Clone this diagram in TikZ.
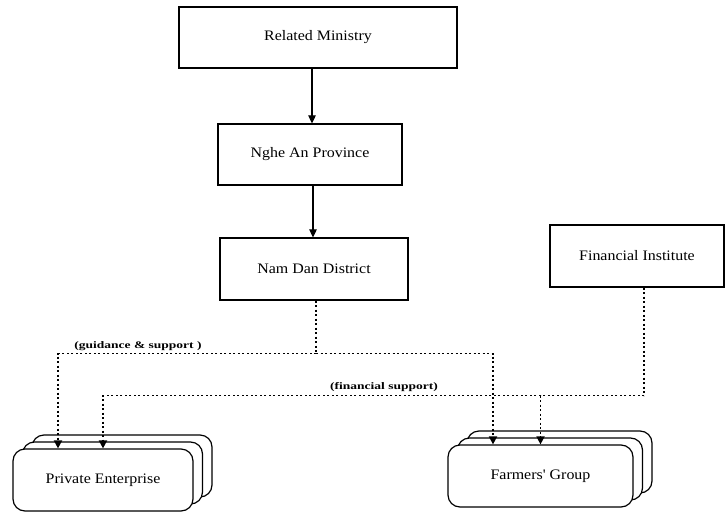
\documentclass[tikz,border=0pt]{standalone}
\usepackage{fontspec}
\setmainfont{Liberation Serif}[FakeStretch=1.1, Ligatures=TeXOff]
\newfontfamily\lblfont{Liberation Serif}[FakeStretch=1.35]
\usetikzlibrary{arrows.meta,shadows}

\tikzset{
  orgbox/.style={draw, line width=1.2pt, fill=white, inner sep=0pt,
    font=\fontsize{14.5}{17}\selectfont},
  groupbox/.style={orgbox, rounded corners=12pt,
    double copy shadow={shadow xshift=9.5pt, shadow yshift=7pt}},
  solidarrow/.style={line width=1.1pt, -{Triangle[length=8pt,width=7.5pt]}},
  dotline/.style={line width=1.7pt, dash pattern=on 2pt off 2.5pt},
  dotarrow/.style={dotline, -{Triangle[length=8pt,width=8pt]}},
  flowlabel/.style={font=\lblfont\bfseries\fontsize{10}{12}\selectfont, inner sep=0pt}
}

\begin{document}
\begin{tikzpicture}[x=1pt, y=-1pt]
  \useasboundingbox (0,0) rectangle (727,513);

  % government hierarchy
  \node[orgbox, minimum width=278pt, minimum height=61pt] (ministry) at (318,37.5) {Related Ministry};
  \node[orgbox, minimum width=184pt, minimum height=61pt] (province) at (310,154.5) {Nghe An Province};
  \node[orgbox, minimum width=188pt, minimum height=62pt] (district) at (314,269) {Nam Dan District};
  \node[orgbox, minimum width=174pt, minimum height=62pt] (finance) at (637,256) {Financial Institute};

  % stacked target groups
  \node[groupbox, minimum width=180pt, minimum height=62pt] (enterprise) at (103,480) {Private Enterprise};
  \node[groupbox, minimum width=185pt, minimum height=62pt] (farmers) at (540.5,476) {Farmers' Group};

  % line of authority
  \draw[solidarrow] ([xshift=2pt]province.north |- ministry.south) -- ([xshift=2pt]province.north);
  \draw[solidarrow] ([xshift=3pt]province.south) -- ([xshift=3pt]province.south |- district.north);

  % guidance & support from the district
  \draw[dotline] ([xshift=2pt]district.south) -- ++(0,53) coordinate (guide);
  \draw[dotarrow] (guide) -| ([xshift=-45pt]enterprise.north);
  \draw[dotarrow] (guide) -| ([xshift=-47.5pt]farmers.north);
  \node[flowlabel] (guidelbl) at (138,346) {(guidance \& support )};

  % financial support from the institute
  \draw[dotline] ([xshift=7pt]finance.south) -- ++(0,108) coordinate (fund);
  \draw[dotarrow] (fund) -| (enterprise.north);
  \draw[dotarrow] (fund) -| (farmers.north);
  \node[flowlabel] (fundlbl) at (384,387) {(financial support)};
\end{tikzpicture}
\end{document}
